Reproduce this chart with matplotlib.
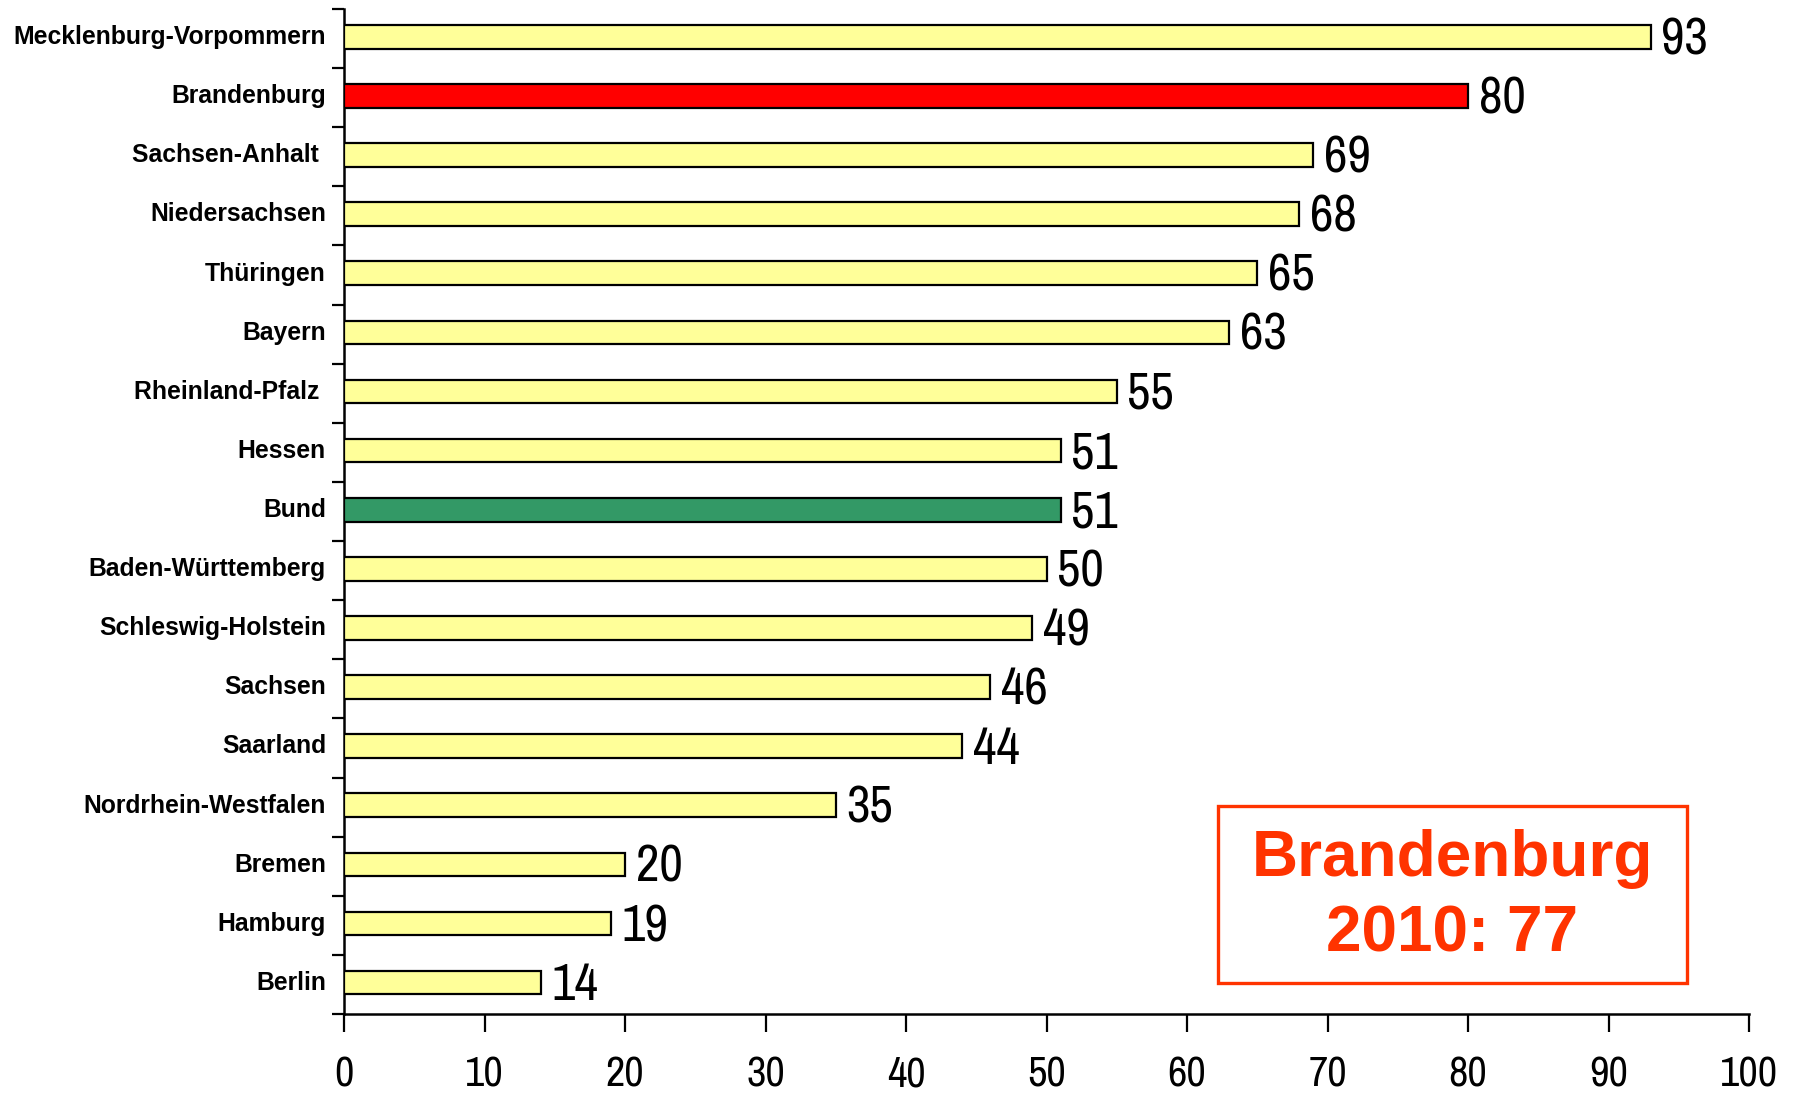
import matplotlib
matplotlib.use("Agg")
import matplotlib.pyplot as plt
from matplotlib.patches import Rectangle
from matplotlib import font_manager as fm
import matplotlib.transforms as mtransforms
import numpy as np

categories = ["Mecklenburg-Vorpommern", "Brandenburg", "Sachsen-Anhalt ", "Niedersachsen",
              "Thüringen", "Bayern", "Rheinland-Pfalz ", "Hessen", "Bund",
              "Baden-Württemberg", "Schleswig-Holstein", "Sachsen", "Saarland",
              "Nordrhein-Westfalen", "Bremen", "Hamburg", "Berlin"]
values = [93, 80, 69, 68, 65, 63, 55, 51, 51, 50, 49, 46, 44, 35, 20, 19, 14]
xticks = [0, 10, 20, 30, 40, 50, 60, 70, 80, 90, 100]
box_lines = ["Brandenburg", "2010: 77"]

YELLOW = "#FFFF99"
RED = "#FF0000"
GREEN = "#339966"
BOXRED = "#FF3300"
colors = []
for c in categories:
    if c == "Brandenburg":
        colors.append(RED)
    elif c == "Bund":
        colors.append(GREEN)
    else:
        colors.append(YELLOW)


def is_condensed(f):
    s = f.stretch
    if isinstance(s, str):
        return "condensed" in s or "narrow" in f.name.lower() or "condensed" in f.name.lower()
    return s < 500 or "narrow" in f.name.lower() or "condensed" in f.name.lower()


def wnum(w):
    if isinstance(w, int):
        return w
    return {"normal": 400, "regular": 400, "book": 400, "medium": 500, "light": 300,
            "bold": 700}.get(str(w).lower(), 400)


cands = [f for f in fm.fontManager.ttflist
         if is_condensed(f) and f.style == "normal" and wnum(f.weight) in (400, 500)]


def rank(f):
    n = f.name.lower() + " " + f.fname.lower()
    if "narrow" in n:
        return 0
    if "roboto" in n:
        return 1
    if "open" in n:
        return 2
    if "noto" in n:
        return 3
    return 5


cands.sort(key=rank)
narrow_prop = fm.FontProperties(fname=cands[0].fname) if cands else None

W, H = 1796, 1094
fig = plt.figure(figsize=(W / 100, H / 100), dpi=100)
ax = fig.add_axes([344 / W, 1 - 1014 / H, (1749 - 344) / W, (1014 - 9) / H])

sans = ["Liberation Sans", "DejaVu Sans"]


def nprop(size):
    if narrow_prop is not None:
        p = narrow_prop.copy()
        p.set_size(size)
        return p
    return fm.FontProperties(family="DejaVu Sans", stretch="condensed", size=size)


y = np.arange(len(categories))
ax.barh(y - 0.03, values, height=0.40, color=colors, edgecolor="black", linewidth=1.6, zorder=3)

for yi, v in zip(y, values):
    ax.text(v + 0.75, yi + 0.02, str(v), va="center", ha="left", fontproperties=nprop(37),
            color="black")

ax.set_xlim(0, 100)
ax.set_ylim(len(categories) - 0.5, -0.5)

ax.set_yticks(y)
ax.set_yticklabels(categories, family=sans, fontweight="bold", fontsize=17.8)
ax.tick_params(axis="y", which="major", length=0, pad=13)
off = mtransforms.ScaledTranslation(0, 4 / 100, fig.dpi_scale_trans)
for lab in ax.get_yticklabels():
    lab.set_transform(lab.get_transform() + off)
ax.set_yticks(np.arange(len(categories) + 1) - 0.5, minor=True)
ax.tick_params(axis="y", which="minor", length=9, width=1.6, direction="out")

ax.set_xticks(xticks)
ax.set_xticklabels([str(t) for t in xticks])
for lab in ax.get_xticklabels():
    lab.set_fontproperties(nprop(30.5))
ax.tick_params(axis="x", which="major", length=13, width=1.6, direction="out", pad=17)

for s in ["top", "right"]:
    ax.spines[s].set_visible(False)
for s in ["left", "bottom"]:
    ax.spines[s].set_linewidth(1.8)

# annotation box
fig.patches.append(Rectangle((1218 / W, 1 - 983 / H), (1687 - 1218) / W, (983 - 806) / H,
                             transform=fig.transFigure, fill=False, edgecolor=BOXRED,
                             linewidth=2.4))
fig.text(1452 / W, 1 - 859 / H, box_lines[0], ha="center", va="center", fontsize=46,
         fontweight="bold", family=sans, color=BOXRED)
fig.text(1452 / W, 1 - 934 / H, box_lines[1], ha="center", va="center", fontsize=46,
         fontweight="bold", family=sans, color=BOXRED)

fig.savefig("out.png", dpi=100)
